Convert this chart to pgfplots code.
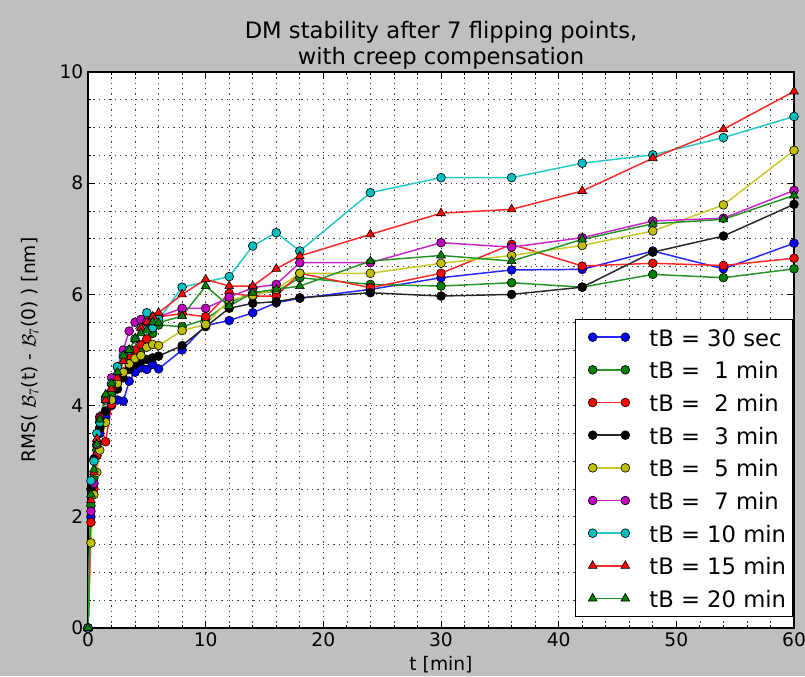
\documentclass[border=0pt]{standalone}
\usepackage{fontspec}
\setmainfont{DejaVu Sans}
\usepackage{pgfplots}
\usepackage{pgfplotstable}
\pgfplotsset{compat=1.18}

\definecolor{mplg}{rgb}{0,0.5,0}
\definecolor{mply}{rgb}{0.75,0.75,0}
\definecolor{mplm}{rgb}{0.75,0,0.75}
\definecolor{mplc}{rgb}{0,0.75,0.75}
\definecolor{figbg}{gray}{0.75}

% RMS deviation [nm] versus time [min], one column per tB setting
\pgfplotstableread{
t    b30s g1   r2   k3   y5   m7   c10  r15  g20
0    0    0    0    0    0    0    0    0    0
0.25 2.00 2.20 1.90 2.50 1.53 2.10 2.65 2.30 2.40
0.5  2.60 2.70 2.50 3.04 2.40 2.60 3.00 2.80 2.85
0.75 3.10 3.20 3.10 3.30 2.80 3.30 3.50 3.40 3.30
1    3.50 3.60 3.70 3.60 3.20 3.80 3.70 3.80 3.75
1.5  3.80 3.90 3.35 3.90 3.70 4.15 4.10 4.10 4.20
2    4.00 4.20 4.02 4.10 4.10 4.50 4.40 4.30 4.40
2.5  4.10 4.40 4.30 4.30 4.40 4.70 4.70 4.50 4.60
3    4.08 4.60 4.60 4.50 4.60 5.00 4.90 4.80 4.90
3.5  4.44 4.80 4.90 4.65 4.75 5.34 5.00 5.00 5.00
4    4.60 4.90 5.00 4.74 4.85 5.50 5.20 5.20 5.20
4.5  4.68 5.00 5.10 4.80 4.90 5.55 5.40 5.40 5.30
5    4.65 5.15 5.20 4.83 5.05 5.50 5.67 5.50 5.35
5.5  4.74 5.30 5.40 4.86 5.10 5.60 5.40 5.60 5.50
6    4.66 5.45 5.60 4.89 5.08 5.60 5.55 5.67 5.49
8    5.00 5.42 5.65 5.08 5.35 5.75 6.13 6.00 5.61
10   5.44 5.55 5.60 5.42 5.46 5.75 nan  6.27 6.15
12   5.53 5.85 6.02 5.75 5.90 5.95 6.32 6.15 5.79
14   5.67 6.03 5.97 5.84 5.98 6.12 6.87 6.15 6.03
16   5.85 6.05 5.97 5.87 6.09 6.18 7.11 6.46 6.09
18   5.93 6.30 6.38 5.94 6.38 6.57 6.78 6.69 6.15
24   6.09 6.18 6.12 6.03 6.38 6.57 7.83 7.08 6.60
30   6.30 6.15 6.38 5.97 6.56 6.93 8.10 7.46 6.70
36   6.44 6.21 6.90 6.00 6.70 6.85 8.10 7.53 6.60
42   6.45 6.13 6.51 6.13 6.88 7.02 8.36 7.86 6.99
48   6.78 6.36 6.56 6.76 7.14 7.32 8.51 8.45 7.27
54   6.46 6.30 6.52 7.05 7.61 7.37 8.82 8.97 7.35
60   6.92 6.46 6.65 7.62 8.59 7.87 9.20 9.65 7.78
}\rmsdata

\pgfplotsset{
  series/.style 2 args={
    color=#1!85!white, line width=1.1pt,
    mark=#2, mark options={fill=#1, draw=black, line width=0.45pt}
  },
  circ/.style={series={#1}{*}, mark size=3.3pt},
  tri/.style={series={#1}{triangle*}, mark size=3.8pt},
}

\begin{document}
\begin{tikzpicture}
\useasboundingbox (0,0) rectangle (603.75pt,507pt);
\fill[figbg] (0,0) rectangle (603.75pt,507pt);
\begin{axis}[
  at={(66pt,36pt)}, anchor=south west,
  scale only axis, width=529.5pt, height=417pt,
  xmin=0, xmax=60, ymin=0, ymax=10,
  xtick={0,10,...,60}, ytick={0,2,...,10},
  minor x tick num=4, minor y tick num=3,
  grid=both,
  major grid style={black!75, line width=0.5pt, dash pattern=on 1pt off 3pt},
  minor grid style={black!75, line width=0.5pt, dash pattern=on 1pt off 3pt},
  tick align=inside,
  major tick length=5pt, minor tick length=2.5pt,
  every tick/.style={black, line width=0.6pt},
  axis line style={line width=0.9pt},
  axis background/.style={fill=white},
  /pgf/number format/assume math mode=true,
  ticklabel style={font=\fontsize{14}{16}\selectfont},
  xlabel={t [min]},
  ylabel={RMS( $\mathcal{B}_7$(t) - $\mathcal{B}_7$(0) ) [nm]},
  label style={font=\fontsize{14}{16}\selectfont},
  xlabel style={at={(axis description cs:0.5,-0.0665)}, anchor=center},
  ylabel style={at={(axis description cs:-0.0822,0.5)}, anchor=center},
  title={DM stability after 7 flipping points,\\with creep compensation},
  title style={align=center, font=\fontsize{17}{19.5}\selectfont, yshift=-7.7pt},
  legend image code/.code={
    \path (-7.3pt,0pt);
    \draw plot coordinates {(0pt,0pt) (24.5pt,0pt)};
    \path (28.3pt,0pt);
  },
  legend cell align=left,
  legend style={
    at={(rel axis cs:1,0)}, anchor=south east, xshift=-0.6pt, yshift=8.5pt,
    font=\fontsize{17}{20}\selectfont,
    draw=black, line width=0.75pt, fill=white,
    inner xsep=5pt, inner ysep=1pt, column sep=13.7pt,
    nodes={inner xsep=0pt, inner ysep=3.5pt, text height=15.5pt, text depth=2pt},
  },
]
\addplot[circ=blue]  table[x=t, y=b30s] {\rmsdata};
\addlegendentry{tB = 30 sec}
\addplot[circ=mplg]  table[x=t, y=g1]   {\rmsdata};
\addlegendentry{tB = \ 1 min}
\addplot[circ=red]   table[x=t, y=r2]   {\rmsdata};
\addlegendentry{tB = \ 2 min}
\addplot[circ=black] table[x=t, y=k3]   {\rmsdata};
\addlegendentry{tB = \ 3 min}
\addplot[circ=mply]  table[x=t, y=y5]   {\rmsdata};
\addlegendentry{tB = \ 5 min}
\addplot[circ=mplm]  table[x=t, y=m7]   {\rmsdata};
\addlegendentry{tB = \ 7 min}
\addplot[circ=mplc]  table[x=t, y=c10]  {\rmsdata};
\addlegendentry{tB = 10 min}
\addplot[tri=red]    table[x=t, y=r15]  {\rmsdata};
\addlegendentry{tB = 15 min}
\addplot[tri=mplg]   table[x=t, y=g20]  {\rmsdata};
\addlegendentry{tB = 20 min}
\end{axis}
\end{tikzpicture}
\end{document}
